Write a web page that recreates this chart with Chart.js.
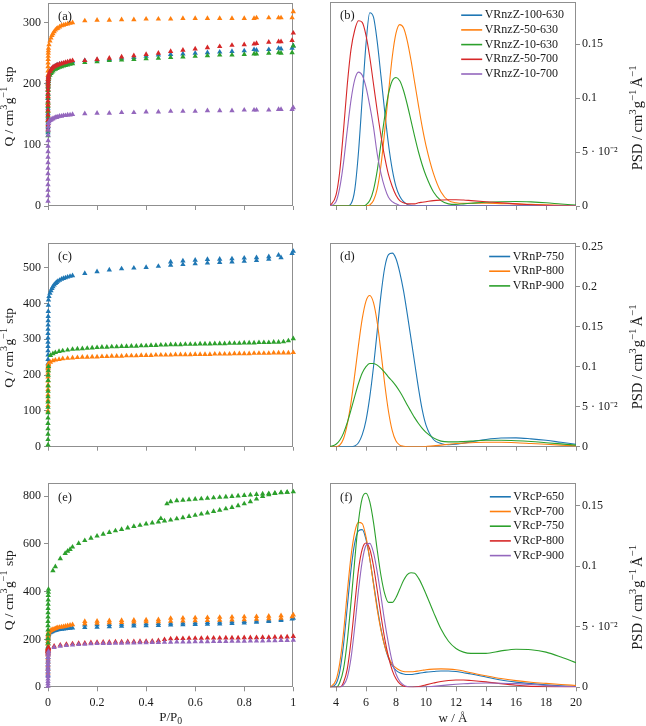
<!DOCTYPE html>
<html><head><meta charset="utf-8">
<script src="https://cdn.jsdelivr.net/npm/chart.js@4.4.1/dist/chart.umd.min.js"></script>
<style>
html,body{margin:0;padding:0;background:#fff;}
#wrap{position:relative;width:646px;height:726px;overflow:hidden;background:#fff;}
canvas{position:absolute;}
</style></head><body><div id="wrap">
<canvas id="ca"></canvas><canvas id="cb"></canvas>
<canvas id="cc"></canvas><canvas id="cd"></canvas>
<canvas id="ce"></canvas><canvas id="cf"></canvas>
</div>
<script>
// ---------------- tick values ----------------
const P_TICKS = [0, 0.2, 0.4, 0.6, 0.8, 1];
const W_TICKS = [4, 6, 8, 10, 12, 14, 16, 18, 20];
const Q_TICKS_A = [0, 100, 200, 300];
const Q_TICKS_C = [0, 100, 200, 300, 400, 500];
const Q_TICKS_E = [0, 200, 400, 600, 800];
const PSD_TICKS_B = [0, 0.05, 0.1, 0.15];
const PSD_TICKS_D = [0, 0.05, 0.1, 0.15, 0.2, 0.25];
const PSD_TICKS_F = [0, 0.05, 0.1, 0.15];

// ---------------- series names ----------------
const NAMES_B = ['VRnzZ-100-630', 'VRnzZ-50-630', 'VRnzZ-10-630', 'VRnzZ-50-700', 'VRnzZ-10-700'];
const NAMES_D = ['VRnP-750', 'VRnP-800', 'VRnP-900'];
const NAMES_F = ['VRcP-650', 'VRcP-700', 'VRcP-750', 'VRcP-800', 'VRcP-900'];

// ---------------- isotherm pressures (P/P0) ----------------
const P_col = [0.000001, 0.000002, 0.000004, 0.000007, 0.00001, 0.00002, 0.00004, 0.00007, 0.0001, 0.0002, 0.0004, 0.0006, 0.0008, 0.001, 0.0015, 0.002];
const P_rise = [0.004, 0.008, 0.012, 0.016, 0.02, 0.025, 0.03, 0.035, 0.04, 0.047, 0.055, 0.063, 0.071, 0.08, 0.09, 0.1];
const P_ads = [0.15, 0.2, 0.25, 0.3, 0.35, 0.4, 0.45, 0.5, 0.55, 0.6, 0.65, 0.7, 0.75, 0.8, 0.85, 0.9, 0.95, 0.995];
const P_des_a = [1.0, 0.94, 0.84];
const P_des_c = [1.0, 0.94, 0.9, 0.85, 0.8, 0.75, 0.7, 0.65, 0.6, 0.55, 0.5];
const P_des_e = [1.0, 0.95, 0.9, 0.85, 0.8, 0.75, 0.7, 0.65, 0.6, 0.55, 0.5, 0.45, 0.4, 0.35, 0.3, 0.25, 0.2, 0.15];
const P_grid_c = [0.01, 0.02, 0.03, 0.045, 0.06, 0.08, 0.1, 0.12, 0.14, 0.16, 0.18, 0.2, 0.22, 0.24, 0.26, 0.28, 0.3, 0.32, 0.34, 0.36, 0.38, 0.4, 0.42, 0.44, 0.46, 0.48, 0.5, 0.52, 0.54, 0.56, 0.58, 0.6, 0.62, 0.64, 0.66, 0.68, 0.7, 0.72, 0.74, 0.76, 0.78, 0.8, 0.82, 0.84, 0.86, 0.88, 0.9, 0.92, 0.94, 0.96, 0.98, 1.0];
const P_grid_e = [0.025, 0.05, 0.075, 0.1, 0.125, 0.15, 0.175, 0.2, 0.225, 0.25, 0.275, 0.3, 0.325, 0.35, 0.375, 0.4, 0.425, 0.45, 0.475, 0.5, 0.525, 0.55, 0.575, 0.6, 0.625, 0.65, 0.675, 0.7, 0.725, 0.75, 0.775, 0.8, 0.825, 0.85, 0.875, 0.9, 0.925, 0.95, 0.975, 1.0];
const P_e_gads = [0.02, 0.03, 0.05, 0.07, 0.08, 0.09, 0.1, 0.125, 0.15, 0.175, 0.2, 0.225, 0.25, 0.275, 0.3, 0.325, 0.35, 0.375, 0.4, 0.425, 0.45, 0.46, 0.475, 0.5, 0.525, 0.55, 0.575, 0.6, 0.625, 0.65, 0.675, 0.7, 0.725, 0.75, 0.775, 0.8, 0.825, 0.85, 0.875, 0.9, 0.925, 0.95, 0.975, 1.0];
const P_e_gdes = [0.975, 0.95, 0.925, 0.9, 0.875, 0.85, 0.825, 0.8, 0.775, 0.75, 0.725, 0.7, 0.675, 0.65, 0.625, 0.6, 0.575, 0.55, 0.525, 0.5, 0.485];

// ---------------- panel (a) uptake, cm3/g stp  [P_col, P_rise, P_ads, P_des_a] ----------------
const Q_a_100_630 = [120, 128, 136, 144, 152, 160, 168, 176, 183, 190, 196, 201, 205, 208, 211, 213,
  216, 220, 223, 225, 226, 228, 229, 230, 231, 232, 233, 233, 234, 235, 236, 236,
  238, 239, 240, 242, 243, 245, 247, 248, 249, 250, 251, 252, 253, 254, 255, 256, 257, 258,
  262, 258, 256];
const Q_a_50_630 = [140, 155, 168, 180, 190, 199, 207, 214, 221, 228, 234, 240, 245, 250, 254, 258,
  264, 270, 275, 279, 282, 285, 288, 290, 291, 293, 295, 296, 297, 298, 299, 300,
  303, 304, 304, 305, 305, 306, 306, 306, 307, 307, 307, 307, 307, 307, 308, 308, 308, 308,
  318, 308, 307];
const Q_a_10_630 = [115, 123, 131, 139, 147, 155, 163, 170, 177, 183, 189, 194, 198, 201, 204, 207,
  210, 214, 217, 219, 221, 223, 224, 225, 226, 227, 228, 229, 230, 231, 232, 233,
  235, 236, 238, 239, 240, 241, 242, 243, 244, 245, 246, 247, 247, 248, 249, 250, 250, 251,
  262, 251, 249];
const Q_a_50_700 = [125, 133, 141, 149, 157, 165, 172, 179, 185, 191, 196, 200, 204, 207, 210, 213,
  216, 220, 223, 225, 227, 228, 229, 230, 231, 232, 233, 234, 235, 236, 237, 238,
  238, 240, 242, 244, 246, 248, 250, 253, 255, 257, 259, 261, 263, 264, 266, 268, 269, 271,
  283, 269, 265];
const Q_a_10_700 = [8, 17, 26, 35, 44, 53, 62, 71, 80, 89, 98, 107, 116, 124, 130, 135,
  138, 140, 141, 142, 143, 144, 145, 145, 146, 147, 147, 148, 148, 149, 149, 150,
  151, 152, 152, 153, 153, 154, 154, 155, 155, 155, 156, 156, 156, 157, 157, 157, 158, 158,
  161, 158, 157];

// ---------------- panel (c) ----------------
// VRnP-750: [P_col, P_rise, P_ads, P_des_c]
const Q_c_750 = [220, 232, 244, 256, 268, 280, 292, 304, 316, 328, 340, 352, 364, 378, 395, 410,
  420, 429, 436, 442, 447, 452, 456, 459, 462, 465, 468, 470, 472, 474, 476, 478,
  484, 489, 494, 497, 499, 501, 504, 507, 509, 511, 513, 515, 516, 518, 520, 524, 528, 540,
  546, 535, 531, 528, 527, 525, 524, 523, 521, 519, 516];
// VRnP-800 and VRnP-900: [P_col, P_grid_c]
const Q_c_800 = [100, 115, 130, 145, 160, 172, 184, 195, 205, 212, 218, 222, 225, 228, 230, 232,
  236, 240, 242, 244, 246, 247, 248,
  249, 250, 250, 251, 251, 252, 252, 253, 253, 253, 254, 254, 254, 255, 255, 255, 256, 256, 256, 256,
  257, 257, 257, 257, 258, 258, 258, 258, 259, 259, 259, 259, 260, 260, 260, 260, 261, 261, 261, 261,
  262, 262, 262, 262, 263];
const Q_c_900 = [5, 20, 35, 50, 65, 80, 95, 110, 125, 140, 155, 170, 185, 200, 212, 224,
  255, 260, 263, 266, 268, 270, 272,
  273, 274, 275, 276, 277, 278, 278, 279, 279, 280, 280, 281, 281, 282, 282, 283, 283, 284, 284, 285,
  285, 285, 286, 286, 286, 287, 287, 287, 288, 288, 288, 289, 289, 289, 290, 290, 290, 291, 291, 291,
  292, 292, 293, 296, 302];

// ---------------- panel (e) ----------------
// VRcP-650 and VRcP-700: [P_col, P_rise, P_ads, P_des_e]
const Q_e_650 = [50, 65, 80, 95, 110, 125, 140, 155, 170, 182, 192, 200, 207, 212, 217, 221,
  224, 228, 231, 233, 235, 237, 238, 240, 241, 242, 243, 244, 245, 246, 247, 248,
  250, 252, 254, 256, 257, 258, 259, 261, 262, 263, 264, 265, 267, 269, 272, 276, 280, 286,
  289, 284, 281, 278, 276, 274, 272, 271, 270, 269, 268, 267, 266, 265, 264, 263, 262, 261];
const Q_e_700 = [60, 75, 90, 105, 120, 135, 150, 165, 180, 192, 202, 210, 216, 221, 225, 229,
  232, 235, 238, 240, 242, 244, 246, 248, 250, 251, 253, 254, 256, 258, 260, 262,
  266, 268, 270, 271, 273, 274, 275, 277, 278, 279, 280, 281, 282, 283, 285, 287, 289, 295,
  303, 300, 298, 296, 295, 294, 293, 292, 291, 290, 289, 283, 282, 281, 280, 279, 277, 276];
// VRcP-750: [P_col, P_e_gads, P_e_gdes]
const Q_e_750 = [150, 168, 186, 204, 222, 240, 258, 276, 294, 312, 330, 348, 366, 384, 398, 410,
  488, 505, 538, 560, 570, 577, 587,
  602, 614, 624, 633, 641, 648, 655, 661, 667, 673, 678, 684, 688, 692,
  706,
  696, 700, 705, 710, 715, 720, 725, 730, 736, 741, 747, 753, 760, 768, 777, 788, 799, 806, 811, 814, 816, 818,
  816, 815, 813, 811, 809, 807, 805, 803, 801, 799, 797, 795, 793, 791, 789, 787, 785, 783, 781, 777, 768];
// VRcP-800 and VRcP-900: [P_col, P_grid_e]
const Q_e_800 = [140, 143, 146, 149, 151, 153, 155, 157, 159, 160, 161, 162, 163, 164, 165, 166,
  172, 177, 180, 182, 184, 185, 187, 188, 189, 189, 190, 190, 191, 191, 192, 192, 193, 195, 200, 203,
  204, 204, 205, 205, 205, 206, 206, 206, 207, 207, 207, 208, 208, 208, 209, 209, 210, 210, 211, 213];
const Q_e_900 = [5, 15, 25, 35, 45, 55, 65, 75, 85, 95, 105, 115, 125, 135, 143, 150,
  167, 172, 175, 177, 179, 180, 182, 183, 184, 184, 185, 185, 186, 186, 187, 187, 188, 188, 189, 189,
  190, 190, 190, 191, 191, 191, 192, 192, 192, 193, 193, 193, 194, 194, 194, 195, 195, 196, 196, 197];

// ---------------- pore widths (Å) for PSD ----------------
const W = [3.6, 4.0, 4.25, 4.5, 4.75, 5.0, 5.25, 5.5, 5.75, 6.0, 6.25, 6.5, 6.75, 7.0, 7.25, 7.5, 7.75, 8.0, 8.25, 8.5, 8.75, 9.0, 9.25, 9.5, 9.75, 10, 10.5, 11, 11.5, 12, 12.5, 13, 14, 15, 16, 17, 18, 19, 20];

// panel (b)
const PSD_b_100_630 = [0,0,0,0,0,0.002,0.015,0.050,0.100,0.150,0.179,0.175,0.152,0.120,0.087,0.057,0.034,0.018,0.009,0.004,0.0015,0.0005,0,0,0,0,0,0,0,0,0,0,0,0,0,0,0,0,0];
const PSD_b_50_630 = [0,0,0,0,0,0,0,0,0,0,0.001,0.005,0.016,0.038,0.070,0.105,0.138,0.160,0.168,0.165,0.153,0.135,0.114,0.093,0.073,0.056,0.030,0.013,0.005,0.003,0.0025,0.0025,0.0025,0.0022,0.002,0.0015,0.001,0.0006,0.0003];
const PSD_b_10_630 = [0,0,0,0,0,0,0,0,0,0.001,0.005,0.015,0.033,0.058,0.083,0.104,0.116,0.119,0.116,0.107,0.094,0.079,0.064,0.050,0.038,0.028,0.013,0.005,0.002,0.0015,0.002,0.0025,0.0035,0.004,0.0042,0.0038,0.003,0.0018,0.0008];
const PSD_b_50_700 = [0,0.010,0.032,0.070,0.112,0.145,0.163,0.1715,0.170,0.158,0.138,0.113,0.088,0.065,0.045,0.029,0.018,0.010,0.005,0.003,0.002,0.002,0.002,0.003,0.0035,0.004,0.005,0.0055,0.0058,0.0058,0.0055,0.005,0.004,0.003,0.002,0.0012,0.0006,0.0002,0];
const PSD_b_10_700 = [0,0.004,0.017,0.040,0.070,0.098,0.117,0.124,0.121,0.110,0.093,0.073,0.048,0.030,0.017,0.008,0.004,0.002,0.0005,0,0,0,0,0,0,0,0,0,0,0,0,0,0,0,0,0,0,0,0];
// panel (d)
const PSD_d_750 = [0,0,0,0,0,0,0.001,0.005,0.015,0.033,0.062,0.100,0.145,0.190,0.224,0.240,0.242,0.235,0.218,0.195,0.166,0.135,0.104,0.073,0.046,0.027,0.009,0.004,0.0025,0.003,0.0045,0.006,0.009,0.0108,0.011,0.0098,0.008,0.0055,0.003];
const PSD_d_800 = [0,0,0.002,0.010,0.028,0.055,0.090,0.127,0.160,0.182,0.189,0.180,0.155,0.118,0.078,0.044,0.020,0.007,0.002,0.0005,0,0,0,0,0,0.0003,0.001,0.002,0.003,0.004,0.0045,0.005,0.0055,0.0055,0.005,0.004,0.003,0.002,0.001];
const PSD_d_900 = [0,0.003,0.008,0.017,0.030,0.046,0.063,0.079,0.092,0.100,0.104,0.104,0.102,0.098,0.093,0.087,0.082,0.076,0.069,0.061,0.052,0.044,0.036,0.029,0.023,0.018,0.011,0.007,0.006,0.006,0.0065,0.007,0.008,0.008,0.0075,0.0065,0.005,0.0035,0.002];
// panel (f)
const PSD_f_650 = [0,0.003,0.013,0.035,0.066,0.097,0.119,0.129,0.130,0.122,0.106,0.086,0.066,0.048,0.034,0.024,0.018,0.014,0.012,0.011,0.0105,0.0105,0.011,0.0115,0.012,0.0125,0.013,0.0135,0.0135,0.013,0.012,0.011,0.0085,0.006,0.0043,0.003,0.002,0.0012,0.0006];
const PSD_f_700 = [0,0.006,0.020,0.045,0.078,0.108,0.128,0.136,0.135,0.124,0.106,0.085,0.064,0.047,0.034,0.025,0.019,0.016,0.014,0.013,0.0128,0.0128,0.013,0.0135,0.014,0.0145,0.015,0.0152,0.015,0.0145,0.0135,0.012,0.0095,0.0072,0.0055,0.0042,0.0032,0.0023,0.0015];
const PSD_f_750 = [0,0,0.004,0.015,0.038,0.070,0.105,0.137,0.156,0.160,0.153,0.136,0.113,0.092,0.077,0.070,0.070,0.074,0.081,0.088,0.093,0.0945,0.094,0.090,0.084,0.077,0.062,0.048,0.038,0.032,0.029,0.028,0.028,0.030,0.0314,0.031,0.029,0.025,0.0203];
const PSD_f_800 = [0,0,0,0.004,0.015,0.038,0.068,0.097,0.114,0.119,0.114,0.100,0.080,0.059,0.040,0.025,0.014,0.007,0.003,0.001,0.0003,0,0.0002,0.0006,0.0012,0.002,0.0035,0.0048,0.0056,0.006,0.006,0.0056,0.0045,0.003,0.0017,0.0008,0.0003,0.0001,0];
const PSD_f_900 = [0,0,0,0.002,0.008,0.024,0.050,0.080,0.104,0.117,0.1187,0.111,0.095,0.075,0.054,0.036,0.021,0.011,0.005,0.002,0.0006,0.0002,0,0,0.0001,0.0003,0.0008,0.0014,0.002,0.0025,0.0029,0.0032,0.0035,0.0034,0.003,0.0023,0.0015,0.0008,0.0004];

// ---------------- styling ----------------
const FONT = '"Liberation Serif", "Times New Roman", serif';
const COLS = ['#1f77b4', '#ff7f0e', '#2ca02c', '#d62728', '#9467bd'];
const TXT = '#1a1a1a';
const FRAME = '#8f8f8f';

function pairs(P, Q) {
  const out = [];
  const n = Math.min(P.length, Q.length);
  for (let i = 0; i < n; i++) if (Q[i] != null) out.push({x: P[i], y: Q[i]});
  return out;
}
function isoSet(label, P, Q, i) {
  return {label, data: pairs(P, Q), showLine: false, pointStyle: 'triangle', pointRadius: 3.1, pointHoverRadius: 3.1,
    backgroundColor: COLS[i], borderColor: COLS[i], borderWidth: 0, clip: false, order: -i};
}
function psdSet(label, V, i) {
  return {label, data: pairs(W, V), showLine: true, pointRadius: 0, pointHoverRadius: 0, borderColor: COLS[i],
    backgroundColor: COLS[i], borderWidth: 1.1, cubicInterpolationMode: 'monotone', fill: false, order: -i};
}

function drawRich(ctx, segs, size) {
  let total = 0;
  const f = s => (s.k ? size * 0.75 : size) + 'px ' + FONT;
  segs.forEach(s => { ctx.font = f(s); s.w = ctx.measureText(s.t).width + (s.g || 0); total += s.w; });
  let x = -total / 2;
  segs.forEach(s => {
    ctx.font = f(s);
    const dy = s.k === 'sup' ? -size * 0.36 : (s.k === 'sub' ? size * 0.26 : 0);
    ctx.fillText(s.t, x, dy); x += s.w;
  });
}

const deco = {
  id: 'deco',
  beforeDatasetsDraw(chart, args, o) {
    const a = chart.chartArea, ctx = chart.ctx;
    ctx.save(); ctx.strokeStyle = FRAME; ctx.lineWidth = 1;
    const L = Math.round(a.left) + 0.5, T = Math.round(a.top) + 0.5, R = Math.round(a.right) - 0.5, B = Math.round(a.bottom) - 0.5;
    ctx.strokeRect(L, T, R - L, B - T); ctx.restore();
  },
  afterDraw(chart, args, o) {
    const a = chart.chartArea, ctx = chart.ctx;
    ctx.save(); ctx.fillStyle = TXT; ctx.textBaseline = 'middle'; ctx.textAlign = 'left';
    ctx.font = '12.5px ' + FONT;
    ctx.fillText(o.tag, a.left + 10, a.top + 14);
    if (o.legend) {
      ctx.font = '12px ' + FONT;
      const ds = chart.data.datasets;
      const maxW = Math.max(...ds.map(d => ctx.measureText(d.label).width));
      const tx = a.right - 12 - maxW;
      ds.forEach((d, i) => {
        const y = a.top + 13.5 + i * 14.7;
        ctx.strokeStyle = d.borderColor; ctx.lineWidth = 1.6;
        ctx.beginPath(); ctx.moveTo(tx - 23.5, y); ctx.lineTo(tx - 2.5, y); ctx.stroke();
        ctx.fillStyle = TXT; ctx.fillText(d.label, tx, y);
      });
    }
    ctx.fillStyle = TXT;
    if (o.ytitle) {
      ctx.save(); ctx.translate(o.ytitleX, (a.top + a.bottom) / 2 + (o.ytitleDy || 0)); ctx.rotate(-Math.PI / 2);
      drawRich(ctx, o.ytitle, o.ytitleSize || 13.5); ctx.restore();
    }
    if (o.xtitle) {
      ctx.save(); ctx.translate((a.left + a.right) / 2, o.xtitleY);
      drawRich(ctx, o.xtitle, 13); ctx.restore();
    }
    ctx.restore();
  }
};

const Y_ISO = [{t: 'Q / cm'}, {t: '3', k: 'sup', g: 0.5}, {t: 'g'}, {t: '\u22121', k: 'sup', g: 1}, {t: ' stp'}];
const Y_PSD = [{t: 'PSD / cm'}, {t: '3', k: 'sup', g: 1}, {t: 'g'}, {t: '\u22121', k: 'sup', g: 2}, {t: '\u00C5'}, {t: '\u22121', k: 'sup'}];
const X_ISO = [{t: 'P/P'}, {t: '0', k: 'sub'}];
const X_PSD = [{t: 'w / \u00C5'}];

const fmtP = v => String(+v.toFixed(1));
const fmtW = v => String(v);
const fmtQ = v => String(v);
const fmtPSD = v => (v === 0 ? '0' : Math.abs(v - 0.05) < 1e-9 ? '5 \u00B7 10\u207B\u00B2' : String(+v.toFixed(2)));

// pos: canvas rect and chart-area margins (l: left margin, r: right margin, t: top, b: bottom)
function makeChart(id, pos, cfg) {
  const cv = document.getElementById(id);
  cv.width = pos.w; cv.height = pos.h;
  cv.style.left = pos.x + 'px'; cv.style.top = pos.y + 'px';
  cv.style.width = pos.w + 'px'; cv.style.height = pos.h + 'px';
  const zero = s => { s.paddingLeft = 0; s.paddingRight = 0; s.paddingTop = 0; s.paddingBottom = 0; };
  const grid = {drawOnChartArea: false, drawTicks: true, tickLength: 4, color: FRAME, lineWidth: 1};
  const tickFont = {family: FONT, size: 12};
  const left = cfg.ypos === 'left';
  const yW = left ? pos.l : pos.r;
  new Chart(cv, {
    type: 'scatter',
    data: {datasets: cfg.datasets},
    plugins: [deco],
    options: {
      responsive: false, animation: false, devicePixelRatio: 1,
      layout: {padding: {left: left ? 0 : pos.l, top: pos.t, right: left ? pos.r : 0, bottom: 0}},
      plugins: {legend: {display: false}, tooltip: {enabled: false}, deco: cfg.deco},
      scales: {
        x: {type: 'linear', position: 'bottom', min: cfg.xmin, max: cfg.xmax,
          afterBuildTicks: s => { s.ticks = cfg.xticks.map(v => ({value: v})); },
          afterFit: s => { s.height = pos.b; zero(s); },
          grid, border: {display: false},
          ticks: {autoSkip: false, maxRotation: 0, minRotation: 0, padding: 4, color: TXT, font: tickFont,
            callback: v => (cfg.xlab ? cfg.xfmt(v) : '')}},
        y: {type: 'linear', position: cfg.ypos, min: cfg.ymin, max: cfg.ymax,
          afterBuildTicks: s => { s.ticks = cfg.yticks.map(v => ({value: v})); },
          afterFit: s => { s.width = yW; zero(s); },
          grid, border: {display: false},
          ticks: {autoSkip: false, padding: left ? 3 : 2, color: TXT, font: tickFont,
            callback: v => cfg.yfmt(v)}}
      }
    }
  });
}

// panel (a)
makeChart('ca', {x: 0, y: 0, w: 310, h: 222, l: 48, t: 1, r: 16.7, b: 16}, {
  datasets: [
    isoSet(NAMES_B[0], [...P_col, ...P_rise, ...P_ads, ...P_des_a], Q_a_100_630, 0),
    isoSet(NAMES_B[1], [...P_col, ...P_rise, ...P_ads, ...P_des_a], Q_a_50_630, 1),
    isoSet(NAMES_B[2], [...P_col, ...P_rise, ...P_ads, ...P_des_a], Q_a_10_630, 2),
    isoSet(NAMES_B[3], [...P_col, ...P_rise, ...P_ads, ...P_des_a], Q_a_50_700, 3),
    isoSet(NAMES_B[4], [...P_col, ...P_rise, ...P_ads, ...P_des_a], Q_a_10_700, 4)],
  xmin: 0, xmax: 1, xticks: P_TICKS, xlab: false, xfmt: fmtP,
  ymin: 0, ymax: 332, yticks: Q_TICKS_A, yfmt: fmtQ, ypos: 'left',
  deco: {tag: '(a)', ytitle: Y_ISO, ytitleX: 9, ytitleDy: 2}
});
// panel (b)
makeChart('cb', {x: 310, y: 0, w: 336, h: 222, l: 20, t: 1.7, r: 70, b: 16}, {
  datasets: [psdSet(NAMES_B[0], PSD_b_100_630, 0), psdSet(NAMES_B[1], PSD_b_50_630, 1), psdSet(NAMES_B[2], PSD_b_10_630, 2),
    psdSet(NAMES_B[3], PSD_b_50_700, 3), psdSet(NAMES_B[4], PSD_b_10_700, 4)],
  xmin: 3.6, xmax: 20, xticks: W_TICKS, xlab: false, xfmt: fmtW,
  ymin: 0, ymax: 0.1892, yticks: PSD_TICKS_B, yfmt: fmtPSD, ypos: 'right',
  deco: {tag: '(b)', legend: true, ytitle: Y_PSD, ytitleX: 328, ytitleDy: 14, ytitleSize: 14.5}
});
// panel (c)
makeChart('cc', {x: 0, y: 222, w: 310, h: 240, l: 48, t: 21, r: 16.7, b: 15.3}, {
  datasets: [
    isoSet(NAMES_D[0], [...P_col, ...P_rise, ...P_ads, ...P_des_c], Q_c_750, 0),
    isoSet(NAMES_D[1], [...P_col, ...P_grid_c], Q_c_800, 1),
    isoSet(NAMES_D[2], [...P_col, ...P_grid_c], Q_c_900, 2)],
  xmin: 0, xmax: 1, xticks: P_TICKS, xlab: false, xfmt: fmtP,
  ymin: 0, ymax: 569, yticks: Q_TICKS_C, yfmt: fmtQ, ypos: 'left',
  deco: {tag: '(c)', ytitle: Y_ISO, ytitleX: 9, ytitleDy: 3}
});
// panel (d)
makeChart('cd', {x: 310, y: 222, w: 336, h: 240, l: 20, t: 21, r: 70, b: 15.3}, {
  datasets: [psdSet(NAMES_D[0], PSD_d_750, 0), psdSet(NAMES_D[1], PSD_d_800, 1), psdSet(NAMES_D[2], PSD_d_900, 2)],
  xmin: 3.6, xmax: 20, xticks: W_TICKS, xlab: false, xfmt: fmtW,
  ymin: 0, ymax: 0.2546, yticks: PSD_TICKS_D, yfmt: fmtPSD, ypos: 'right',
  deco: {tag: '(d)', legend: true, ytitle: Y_PSD, ytitleX: 328, ytitleDy: 12, ytitleSize: 14.5}
});
// panel (e)
makeChart('ce', {x: 0, y: 462, w: 310, h: 264, l: 48, t: 21.3, r: 16.7, b: 38.7}, {
  datasets: [
    isoSet(NAMES_F[0], [...P_col, ...P_rise, ...P_ads, ...P_des_e], Q_e_650, 0),
    isoSet(NAMES_F[1], [...P_col, ...P_rise, ...P_ads, ...P_des_e], Q_e_700, 1),
    isoSet(NAMES_F[2], [...P_col, ...P_e_gads, ...P_e_gdes], Q_e_750, 2),
    isoSet(NAMES_F[3], [...P_col, ...P_grid_e], Q_e_800, 3),
    isoSet(NAMES_F[4], [...P_col, ...P_grid_e], Q_e_900, 4)],
  xmin: 0, xmax: 1, xticks: P_TICKS, xlab: true, xfmt: fmtP,
  ymin: 0, ymax: 853.6, yticks: Q_TICKS_E, yfmt: fmtQ, ypos: 'left',
  deco: {tag: '(e)', ytitle: Y_ISO, ytitleX: 9, ytitleDy: 5, xtitle: X_ISO, xtitleY: 256}
});
// panel (f)
makeChart('cf', {x: 310, y: 462, w: 336, h: 264, l: 20, t: 21.3, r: 70, b: 38.7}, {
  datasets: [psdSet(NAMES_F[0], PSD_f_650, 0), psdSet(NAMES_F[1], PSD_f_700, 1), psdSet(NAMES_F[2], PSD_f_750, 2),
    psdSet(NAMES_F[3], PSD_f_800, 3), psdSet(NAMES_F[4], PSD_f_900, 4)],
  xmin: 3.6, xmax: 20, xticks: W_TICKS, xlab: true, xfmt: fmtW,
  ymin: 0, ymax: 0.1682, yticks: PSD_TICKS_F, yfmt: fmtPSD, ypos: 'right',
  deco: {tag: '(f)', legend: true, ytitle: Y_PSD, ytitleX: 328, ytitleDy: 12, ytitleSize: 14.5, xtitle: X_PSD, xtitleY: 257}
});
</script>
</body></html>
